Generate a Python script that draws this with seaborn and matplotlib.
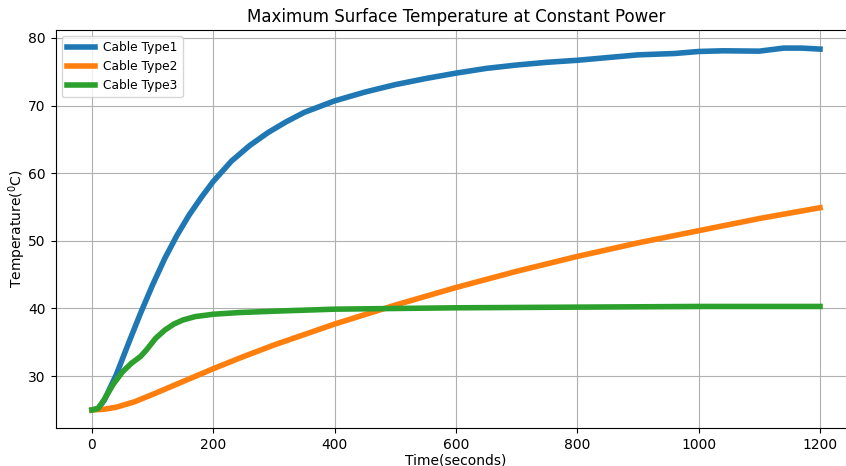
import matplotlib
matplotlib.use("Agg")
import matplotlib.pyplot as plt
import seaborn as sns
import pandas as pd

title = "Maximum Surface Temperature at Constant Power"
x_label = "Time(seconds)"
y_label = r"Temperature($^0$C)"
series_names = ["Cable Type1", "Cable Type2", "Cable Type3"]

type1_t = [0, 10, 20, 40, 60, 80, 100, 120, 140, 160, 180, 200, 230, 260, 290, 320,
           350, 400, 450, 500, 550, 600, 650, 700, 750, 800, 850, 900, 960, 1000,
           1040, 1100, 1140, 1170, 1200]
type1_v = [25.0, 25.2, 26.4, 30.2, 34.8, 39.3, 43.5, 47.4, 50.8, 53.8, 56.4, 58.8,
           61.8, 64.1, 66.0, 67.6, 69.0, 70.7, 72.0, 73.1, 74.0, 74.8, 75.5, 76.0,
           76.4, 76.7, 77.1, 77.5, 77.7, 78.0, 78.1, 78.05, 78.5, 78.5, 78.35]

type2_t = [0, 20, 40, 70, 100, 150, 200, 250, 300, 400, 500, 600, 700, 800, 900,
           1000, 1100, 1200]
type2_v = [25.0, 25.1, 25.4, 26.2, 27.3, 29.2, 31.1, 32.9, 34.6, 37.7, 40.5, 43.1,
           45.5, 47.7, 49.7, 51.5, 53.3, 54.9]

type3_t = [0, 10, 20, 35, 50, 65, 80, 90, 105, 120, 135, 150, 170, 200, 243, 300,
           400, 600, 800, 1000, 1200]
type3_v = [25.0, 25.2, 26.5, 28.8, 30.6, 31.9, 32.9, 33.9, 35.6, 36.8, 37.7, 38.3,
           38.8, 39.15, 39.4, 39.6, 39.9, 40.1, 40.2, 40.3, 40.3]

frames = []
for name, t, v in [(series_names[0], type1_t, type1_v),
                   (series_names[1], type2_t, type2_v),
                   (series_names[2], type3_t, type3_v)]:
    frames.append(pd.DataFrame({"time": t, "temp": v, "cable": name}))
df = pd.concat(frames, ignore_index=True)

fig = plt.figure(figsize=(8.46, 4.66), dpi=100)
ax = fig.add_axes([0.0657, 0.0815, 0.9466, 0.8541])
sns.lineplot(data=df, x="time", y="temp", hue="cable", hue_order=series_names,
             palette=["#1f77b4", "#ff7f0e", "#2ca02c"], linewidth=4, ax=ax,
             sort=False, estimator=None)
for line in ax.get_lines():
    line.set_solid_joinstyle("round")
ax.grid(True, color="#b0b0b0", linewidth=0.8)
ax.set_title(title, fontsize=12)
ax.set_xlabel(x_label, labelpad=1)
ax.set_ylabel(y_label, labelpad=0)
ax.legend(loc="upper left", fontsize=8.8, handlelength=2.3, handletextpad=0.7)
ax.spines["right"].set_visible(False)
fig.savefig("out.png", dpi=100)
